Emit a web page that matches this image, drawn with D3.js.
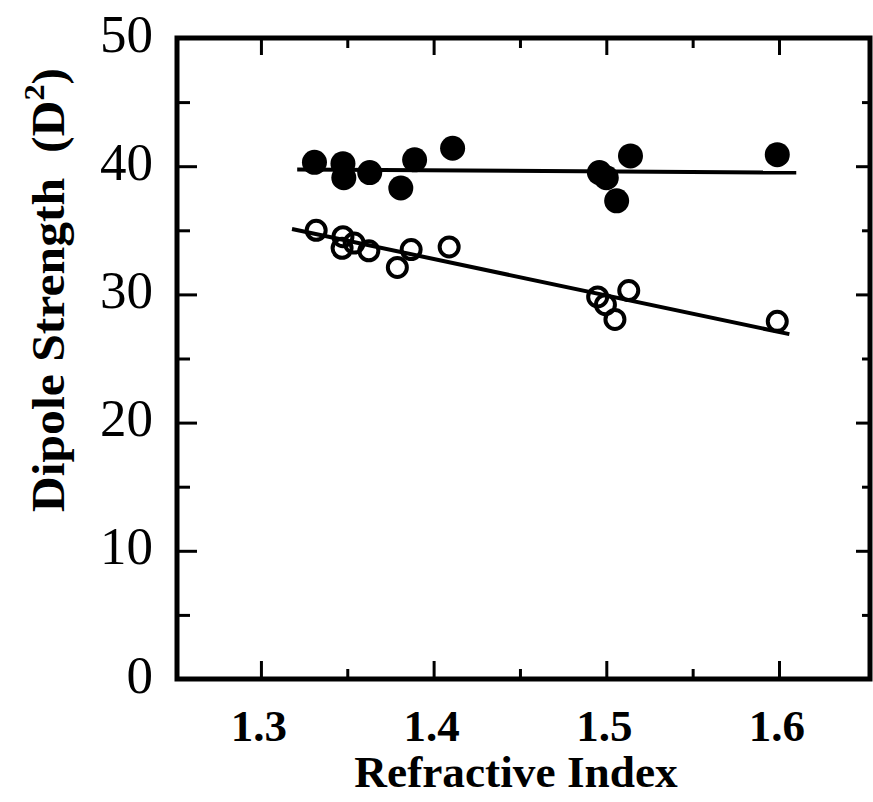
<!DOCTYPE html>
<html>
<head>
<meta charset="utf-8">
<script src="https://cdn.jsdelivr.net/npm/d3@7"></script>
<style>
  body { margin: 0; background: #fff; }
  svg { display: block; }
</style>
</head>
<body>
<div id="chart"></div>
<script>
// filled circles
const filledIndex = [1.331, 1.3475, 1.348, 1.363, 1.381, 1.389, 1.411, 1.496, 1.500, 1.506, 1.514, 1.599];
const filledDipole = [40.3, 40.2, 39.1, 39.5, 38.3, 40.5, 41.4, 39.5, 39.1, 37.3, 40.8, 40.9];
// open circles
const openIndex = [1.332, 1.3475, 1.347, 1.354, 1.3625, 1.379, 1.387, 1.409, 1.495, 1.4995, 1.505, 1.513, 1.599];
const openDipole = [35.0, 34.5, 33.6, 34.0, 33.4, 32.1, 33.5, 33.7, 29.8, 29.2, 28.05, 30.3, 27.9];
// fitted lines (end points)
const filledFitX = [1.321, 1.61];
const filledFitY = [39.75, 39.5];
const openFitX = [1.318, 1.606];
const openFitY = [35.1, 26.9];

const xTicks = [1.3, 1.4, 1.5, 1.6];
const xMinorTicks = [1.35, 1.45, 1.55];
const yTicks = [0, 10, 20, 30, 40, 50];
const yMinorTicks = [5, 15, 25, 35, 45];

const w = 873;
const h = 802;
const plotLeft = 177, plotRight = 870, plotTop = 38, plotBottom = 679;

const x = d3.scaleLinear().domain([1.2514, 1.6527]).range([plotLeft, plotRight]);
const y = d3.scaleLinear().domain([0, 50]).range([plotBottom, plotTop]);

const svg = d3.select("#chart")
  .append("svg")
  .attr("width", w)
  .attr("height", h)
  .style("background", "#fff");

// frame
svg.append("rect")
  .attr("x", plotLeft)
  .attr("y", plotTop)
  .attr("width", plotRight - plotLeft)
  .attr("height", plotBottom - plotTop)
  .attr("fill", "none")
  .attr("stroke", "#000")
  .attr("stroke-width", 5);

// ticks, pointing inward on all four sides
function tickAxis(axis, values, size, transform) {
  const g = svg.append("g")
    .attr("transform", transform)
    .call(axis.tickValues(values).tickSizeInner(size).tickSizeOuter(0).tickFormat(""));
  g.select(".domain").remove();
  g.selectAll("line").attr("stroke", "#000").attr("stroke-width", 3);
}
tickAxis(d3.axisBottom(x), xTicks, -18, `translate(0,${plotBottom})`);
tickAxis(d3.axisBottom(x), xMinorTicks, -10, `translate(0,${plotBottom})`);
tickAxis(d3.axisTop(x), xTicks, -17, `translate(0,${plotTop})`);
tickAxis(d3.axisTop(x), xMinorTicks, -10, `translate(0,${plotTop})`);
tickAxis(d3.axisLeft(y), yTicks, -20, `translate(${plotLeft},0)`);
tickAxis(d3.axisLeft(y), yMinorTicks, -13, `translate(${plotLeft},0)`);
tickAxis(d3.axisRight(y), yTicks, -14, `translate(${plotRight},0)`);
tickAxis(d3.axisRight(y), yMinorTicks, -8, `translate(${plotRight},0)`);

// tick labels
svg.append("g")
  .selectAll("text")
  .data(xTicks)
  .join("text")
  .attr("x", (d) => x(d) - 2)
  .attr("y", 741)
  .attr("text-anchor", "middle")
  .style("font-family", "'Liberation Serif', serif")
  .style("font-weight", "bold")
  .style("font-size", "45px")
  .text((d) => d.toFixed(1));

svg.append("g")
  .selectAll("text")
  .data(yTicks)
  .join("text")
  .attr("x", 153)
  .attr("y", (d) => y(d) - 5)
  .attr("dy", "0.35em")
  .attr("text-anchor", "end")
  .style("font-family", "'Liberation Serif', serif")
  .style("font-size", "53px")
  .text((d) => d);

// axis titles
svg.append("text")
  .attr("transform", "translate(516,787) scale(1.03,1)")
  .attr("text-anchor", "middle")
  .style("font-family", "'Liberation Serif', serif")
  .style("font-weight", "bold")
  .style("font-size", "44px")
  .text("Refractive Index");

const yTitle = svg.append("text")
  .attr("transform", "translate(64,290) rotate(-90) scale(1.08,1)")
  .attr("text-anchor", "middle")
  .style("font-family", "'Liberation Serif', serif")
  .style("font-weight", "bold")
  .style("font-size", "46px");
yTitle.append("tspan").text("Dipole Strength\u00a0 (D");
yTitle.append("tspan").attr("dy", -20).style("font-size", "30px").text("2");
yTitle.append("tspan").attr("dy", 20).text(")");

// fitted lines
const line = d3.line().x((d) => x(d[0])).y((d) => y(d[1]));
svg.append("path")
  .datum(d3.zip(filledFitX, filledFitY))
  .attr("d", line)
  .attr("fill", "none")
  .attr("stroke", "#000")
  .attr("stroke-width", 4);
svg.append("path")
  .datum(d3.zip(openFitX, openFitY))
  .attr("d", line)
  .attr("fill", "none")
  .attr("stroke", "#000")
  .attr("stroke-width", 4);

// points
svg.append("g")
  .selectAll("circle")
  .data(d3.zip(openIndex, openDipole))
  .join("circle")
  .attr("cx", (d) => x(d[0]))
  .attr("cy", (d) => y(d[1]))
  .attr("r", 9.5)
  .attr("fill", "none")
  .attr("stroke", "#000")
  .attr("stroke-width", 4);

svg.append("g")
  .selectAll("circle")
  .data(d3.zip(filledIndex, filledDipole))
  .join("circle")
  .attr("cx", (d) => x(d[0]))
  .attr("cy", (d) => y(d[1]))
  .attr("r", 12.5)
  .attr("fill", "#000");
</script>
</body>
</html>
